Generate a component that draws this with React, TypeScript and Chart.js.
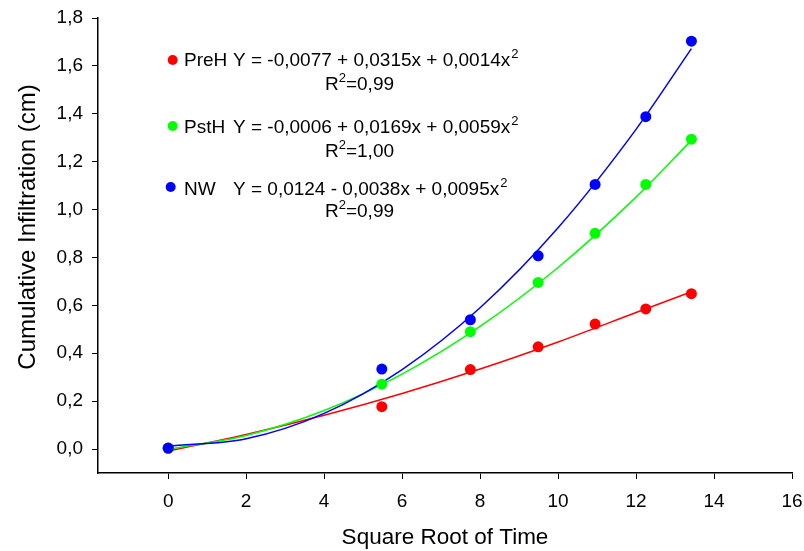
import React, { useEffect, useRef } from "react";
import { Chart, registerables } from "chart.js";

Chart.register(...registerables);

// Measured data (x = square root of time)
const sqrtTime = [0, 5.48, 7.75, 9.49, 10.95, 12.25, 13.42];
const preH = [0.003, 0.177, 0.332, 0.427, 0.522, 0.585, 0.649];
const pstH = [0.003, 0.271, 0.49, 0.696, 0.901, 1.105, 1.294];
const nw = [0.004, 0.334, 0.54, 0.807, 1.105, 1.388, 1.703];

// Fitted curves
const fitX = [0, 2, 4, 6, 8, 10, 12, 13.42];
const preHFit = [-0.008, 0.061, 0.141, 0.232, 0.334, 0.447, 0.57, 0.657];
const pstHFit = [-0.001, 0.057, 0.161, 0.313, 0.512, 0.758, 1.052, 1.289];
const nwFit = [0.012, 0.043, 0.149, 0.332, 0.59, 0.924, 1.335, 1.672];

// Axis ticks
const xTicks = [0, 2, 4, 6, 8, 10, 12, 14, 16];
const yTicks = [0, 0.2, 0.4, 0.6, 0.8, 1.0, 1.2, 1.4, 1.6, 1.8];

// Texts
const xTitle = "Square Root of Time";
const yTitle = "Cumulative Infiltration (cm)";
const seriesNames = ["PreH", "PstH", "NW"];
const seriesColors = ["#ff0000", "#00ff00", "#0000ff"];
const equations = [
  "Y = -0,0077 + 0,0315x + 0,0014x",
  "Y = -0,0006 + 0,0169x + 0,0059x",
  "Y = 0,0124 - 0,0038x + 0,0095x",
];
const r2Values = ["=0,99", "=1,00", "=0,99"];

const FONT = "'Liberation Sans', Arial, sans-serif";

const pts = (xs: number[], ys: number[]) => xs.map((x, i) => ({ x, y: ys[i] }));

const textPlugin = {
  id: "eqLegend",
  afterDraw(chart: any) {
    const ctx = chart.ctx as CanvasRenderingContext2D;
    ctx.save();
    // y-axis title
    ctx.save();
    ctx.translate(28, 227);
    ctx.rotate(-Math.PI / 2);
    ctx.fillStyle = "#000";
    ctx.font = `24px ${FONT}`;
    ctx.textAlign = "center";
    ctx.textBaseline = "middle";
    ctx.fillText(yTitle, 0, 0);
    ctx.restore();

    const rows = [
      { dotX: 172.7, dotY: 60, base: 66, r2Base: 89.5 },
      { dotX: 172.7, dotY: 126, base: 132.5, r2Base: 156.5 },
      { dotX: 170.7, dotY: 187, base: 195, r2Base: 216.5 },
    ];
    rows.forEach((r, i) => {
      ctx.fillStyle = seriesColors[i];
      ctx.beginPath();
      ctx.arc(r.dotX, r.dotY, 5, 0, Math.PI * 2);
      ctx.fill();
      ctx.fillStyle = "#000";
      ctx.textBaseline = "alphabetic";
      ctx.textAlign = "left";
      ctx.font = `19px ${FONT}`;
      ctx.fillText(seriesNames[i], 184, r.base);
      ctx.fillText(equations[i], 233, r.base);
      const w = ctx.measureText(equations[i]).width;
      ctx.font = `13px ${FONT}`;
      ctx.fillText("2", 233 + w + 1, r.base - 8);
      // R^2 line
      ctx.font = `19px ${FONT}`;
      ctx.fillText("R", 325, r.r2Base);
      const rw = ctx.measureText("R").width;
      ctx.font = `13px ${FONT}`;
      ctx.fillText("2", 325 + rw, r.r2Base - 8);
      const sw = ctx.measureText("2").width;
      ctx.font = `19px ${FONT}`;
      ctx.fillText(r2Values[i], 325 + rw + sw, r.r2Base);
    });
    ctx.restore();
  },
};

export default function App() {
  const ref = useRef<HTMLCanvasElement | null>(null);

  useEffect(() => {
    if (!ref.current) return;
    const lineDs = (data: number[], color: string, order: number) => ({
      data: pts(fitX, data),
      showLine: true,
      borderColor: color,
      borderWidth: 1.5,
      pointRadius: 0,
      cubicInterpolationMode: "monotone",
      order,
    });
    const pointDs = (data: number[], color: string, order: number) => ({
      data: pts(sqrtTime, data),
      showLine: false,
      pointRadius: 5.5,
      pointBackgroundColor: color,
      pointBorderWidth: 0,
      borderColor: color,
      order,
    });
    const chart = new Chart(ref.current, {
      type: "scatter",
      data: {
        datasets: [
          pointDs(nw, seriesColors[2], 0),
          pointDs(pstH, seriesColors[1], 1),
          pointDs(preH, seriesColors[0], 2),
          lineDs(nwFit, seriesColors[2], 3),
          lineDs(pstHFit, seriesColors[1], 4),
          lineDs(preHFit, seriesColors[0], 5),
        ] as any,
      },
      options: {
        responsive: false,
        animation: false,
        devicePixelRatio: 1,
        layout: { padding: { top: 18, right: 12, left: 0, bottom: 0 } },
        plugins: { legend: { display: false }, tooltip: { enabled: false } },
        scales: {
          x: {
            type: "linear",
            min: -1.8,
            max: 16,
            afterBuildTicks: (s: any) => {
              s.ticks = xTicks.map((v) => ({ value: v }));
            },
            afterFit: (s: any) => {
              s.height = 78;
              s.paddingLeft = 0;
              s.paddingRight = 0;
            },
            ticks: {
              color: "#000",
              font: { family: FONT, size: 19 },
              padding: 11,
              maxRotation: 0,
              callback: (v: any) => String(v),
            },
            grid: {
              drawOnChartArea: false,
              drawTicks: true,
              tickLength: 6,
              color: "#000",
              lineWidth: 1,
            },
            border: { display: true, color: "#000", width: 1.5 },
            title: {
              display: true,
              text: xTitle,
              color: "#000",
              font: { family: FONT, size: 22.5 },
              padding: { top: 0, bottom: 0 },
            },
          },
          y: {
            type: "linear",
            min: -0.1,
            max: 1.8,
            afterBuildTicks: (s: any) => {
              s.ticks = yTicks.map((v) => ({ value: v }));
            },
            afterFit: (s: any) => {
              s.width = 98;
              s.paddingTop = 0;
              s.paddingBottom = 0;
            },
            ticks: {
              color: "#000",
              font: { family: FONT, size: 19 },
              padding: 9,
              callback: (v: any) => Number(v).toFixed(1).replace(".", ","),
            },
            grid: {
              drawOnChartArea: false,
              drawTicks: true,
              tickLength: 6,
              color: "#000",
              lineWidth: 1,
            },
            border: { display: true, color: "#000", width: 1.5 },
            title: { display: false },
          },
        },
      } as any,
      plugins: [textPlugin],
    });
    return () => chart.destroy();
  }, []);

  return (
    <div style={{ position: "fixed", left: 0, top: 0, width: 804, height: 551, background: "#fff" }}>
      <canvas ref={ref} width={804} height={551} style={{ width: 804, height: 551 }} />
    </div>
  );
}
